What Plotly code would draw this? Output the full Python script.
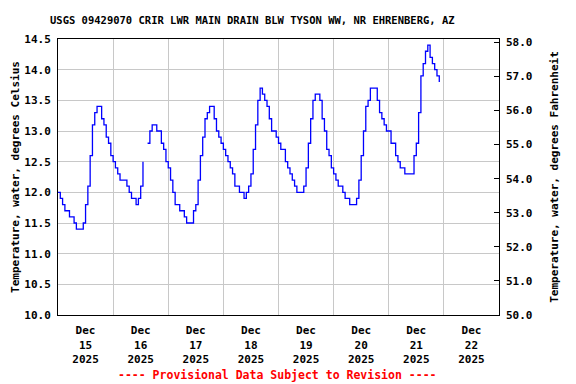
import pandas as pd
import plotly.graph_objects as go

# Hourly water temperature (deg C), starting 2025-12-15 00:00
dec15 = [12.0, 11.9, 11.8, 11.7, 11.7, 11.6, 11.6, 11.5, 11.4, 11.4, 11.4, 11.5,
         11.8, 12.1, 12.6, 13.1, 13.3, 13.4, 13.4, 13.2, 13.1, 12.9, 12.8, 12.6]
dec16 = [12.5, 12.4, 12.3, 12.2, 12.2, 12.2, 12.1, 12.0, 11.9, 11.9, 11.8, 11.9,
         12.1, 12.5, None, 12.8, 13.0, 13.1, 13.1, 13.0, 13.0, 12.8, 12.7, 12.5]
dec17 = [12.4, 12.2, 12.0, 11.8, 11.8, 11.7, 11.7, 11.6, 11.5, 11.5, 11.5, 11.7,
         11.8, 12.2, 12.6, 12.9, 13.2, 13.3, 13.4, 13.4, 13.2, 13.0, 12.9, 12.8]
dec18 = [12.7, 12.6, 12.5, 12.4, 12.3, 12.1, 12.1, 12.0, 12.0, 11.9, 12.0, 12.1,
         12.3, 12.7, 13.1, 13.5, 13.7, 13.6, 13.5, 13.4, 13.2, 13.0, 13.0, 12.9]
dec19 = [12.8, 12.7, 12.7, 12.5, 12.4, 12.3, 12.2, 12.1, 12.0, 12.0, 12.0, 12.1,
         12.4, 12.8, 13.2, 13.5, 13.6, 13.6, 13.5, 13.2, 13.0, 12.7, 12.6, 12.4]
dec20 = [12.3, 12.2, 12.1, 12.1, 12.0, 11.9, 11.9, 11.8, 11.8, 11.8, 11.9, 12.2,
         12.6, 13.0, 13.4, 13.5, 13.7, 13.7, 13.7, 13.5, 13.3, 13.2, 13.1, 13.0]
dec21 = [13.0, 12.8, 12.8, 12.6, 12.5, 12.4, 12.4, 12.3, 12.3, 12.3, 12.3, 12.6,
         12.8, 13.3, 13.9, 14.1, 14.3, 14.4, 14.2, 14.1, 14.0, 13.9, 13.8]

temps_c = dec15 + dec16 + dec17 + dec18 + dec19 + dec20 + dec21
times = pd.date_range("2025-12-15 00:00", periods=len(temps_c), freq="h")
temps_f = [None if t is None else t * 1.8 + 32 for t in temps_c]

title = "USGS 09429070 CRIR LWR MAIN DRAIN BLW TYSON WW, NR EHRENBERG, AZ"
left_title = "Temperature, water, degrees Celsius"
right_title = "Temperature, water, degrees Fahrenheit"
footer = "---- Provisional Data Subject to Revision ----"
c_ticks = [10.0, 10.5, 11.0, 11.5, 12.0, 12.5, 13.0, 13.5, 14.0, 14.5]
f_ticks = [50.0, 51.0, 52.0, 53.0, 54.0, 55.0, 56.0, 57.0, 58.0]

FONT = "DejaVu Sans Mono"
OFF = 8  # page body margin offset
W, H = 576 - OFF, 384 - OFF
# plot area in page pixels: x 58..499, y 39..315
L, T = 58 - OFF, 39 - OFF
R, B = 576 - 499, 384 - 315
PW, PH = W - L - R, H - T - B


def px(xp):
    return (xp - OFF - L) / PW


def py(yp):
    return (H - B - (yp - OFF)) / PH


fig = go.Figure()
fig.add_trace(go.Scatter(x=times, y=temps_c, mode="lines",
                         line=dict(color="#0000ff", width=1.3, shape="hv"),
                         connectgaps=False, showlegend=False))
fig.add_trace(go.Scatter(x=times, y=temps_f, mode="lines", yaxis="y2",
                         line=dict(color="rgba(0,0,0,0)", width=0, shape="hv"),
                         hoverinfo="skip", showlegend=False))

fig.update_layout(
    width=W, height=H,
    margin=dict(l=L, r=R, t=T, b=B, autoexpand=False),
    paper_bgcolor="white", plot_bgcolor="white",
    font=dict(family=FONT, size=11, color="black", weight="bold"),
    xaxis=dict(
        type="date", automargin=False,
        range=["2025-12-15 00:00", "2025-12-23 00:00"],
        tick0="2025-12-15", dtick=86400000,
        ticklabelmode="period", tickformat="%b<br>%d<br>%Y",
        showgrid=True, gridcolor="#c8c8c8", gridwidth=1,
        showline=True, linecolor="black", linewidth=1, mirror=True,
        ticks="", ticklabelstandoff=5,
        tickfont=dict(family=FONT, size=11, weight="bold"),
    ),
    yaxis=dict(
        automargin=False,
        range=[10.0, 14.5], tickvals=c_ticks, tickformat=".1f",
        showgrid=True, gridcolor="#c8c8c8", gridwidth=1,
        showline=True, linecolor="black", linewidth=1, mirror=True,
        ticks="", ticklabelstandoff=4,
        tickfont=dict(family=FONT, size=11, weight="bold"),
        title=dict(text=left_title, font=dict(family=FONT, size=11, weight="bold"),
                   standoff=2),
        zeroline=False,
    ),
    yaxis2=dict(
        automargin=False,
        range=[50.0, 58.1], tickvals=f_ticks, tickformat=".1f",
        overlaying="y", side="right", showgrid=False, zeroline=False,
        ticks="inside", ticklen=5, tickcolor="black",
        ticklabelstandoff=6,
        tickfont=dict(family=FONT, size=11, weight="bold"),
        title=dict(text=right_title, font=dict(family=FONT, size=11, weight="bold"),
                   standoff=18),
    ),
)

fig.add_annotation(text=title, x=px(252), y=py(20),
                   xref="paper", yref="paper", xanchor="center", yanchor="middle",
                   showarrow=False,
                   font=dict(family=FONT, size=10.5, weight="bold", color="black"))
fig.add_annotation(text=footer, x=px(277), y=py(375),
                   xref="paper", yref="paper", xanchor="center", yanchor="middle",
                   showarrow=False,
                   font=dict(family=FONT, size=11.5, weight="bold", color="#ff0000"))

fig.write_html("out.html")
